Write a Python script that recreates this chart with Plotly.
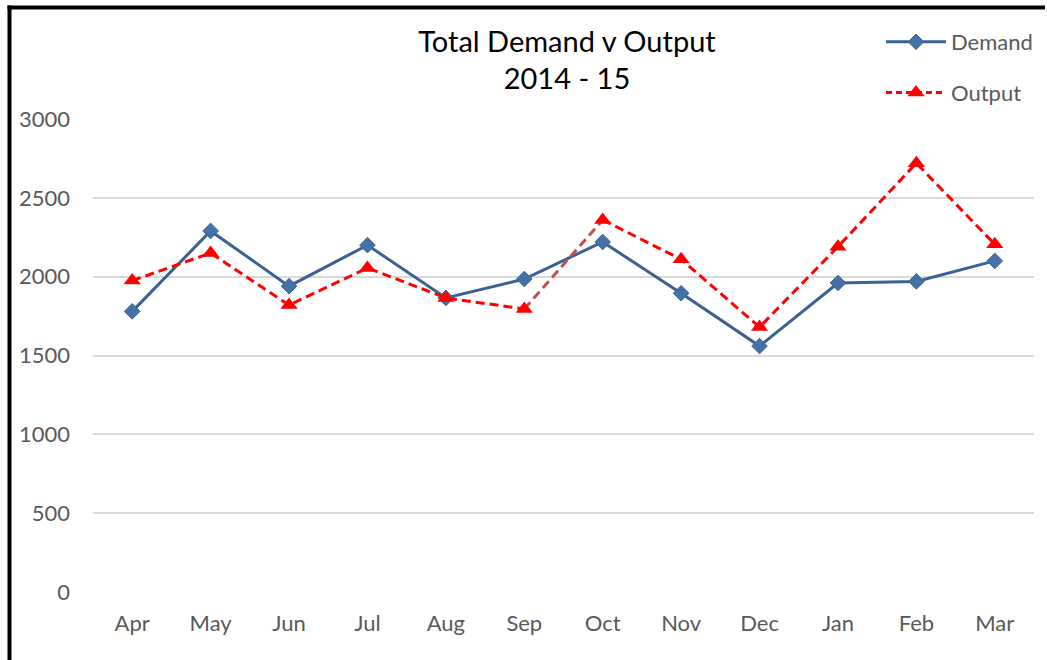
import plotly.graph_objects as go

months = ["Apr", "May", "Jun", "Jul", "Aug", "Sep", "Oct", "Nov", "Dec", "Jan", "Feb", "Mar"]
demand = [1780, 2290, 1940, 2200, 1865, 1985, 2220, 1895, 1560, 1960, 1970, 2100]
output = [1975, 2150, 1820, 2055, 1865, 1795, 2360, 2110, 1680, 2190, 2720, 2205]
y_ticks = [0, 500, 1000, 1500, 2000, 2500, 3000]

W, H = 1047, 660
# plot area in screen pixels
PL, PR, PT, PB = 93, 1034, 119, 592
ML, MT, MR, MB = PL, PT, W - PR, H - PB
PW, PH = PR - PL, PB - PT

def px(x):  # screen x -> paper
    return (x - PL) / PW

def py(y):  # screen y -> paper
    return (PB - y) / PH

def cy(y):  # screen y -> container
    return 1 - y / H

FONT = "Lato, 'Open Sans', sans-serif"
DEM_LINE = "#3A6194"
DEM_MARK = "#4272A8"
OUT_RED = "#FF0000"
SEG = "#C0504D"
DASH = "9px,5px"

fig = go.Figure()

fig.add_trace(go.Scatter(
    x=months, y=demand, name="Demand", mode="lines+markers",
    line=dict(color=DEM_LINE, width=3),
    marker=dict(symbol="diamond", size=12, color=DEM_MARK, line=dict(color=DEM_LINE, width=1)),
))

# Output series: red dashed except the Sep-Oct segment (brownish red)
fig.add_trace(go.Scatter(
    x=months[:6], y=output[:6], name="Output", mode="lines", legendgroup="out",
    line=dict(color=OUT_RED, width=3, dash=DASH), showlegend=False,
))
fig.add_trace(go.Scatter(
    x=months[5:7], y=output[5:7], name="Output", mode="lines", legendgroup="out",
    line=dict(color=SEG, width=3, dash=DASH), showlegend=False,
))
fig.add_trace(go.Scatter(
    x=months[6:], y=output[6:], name="Output", mode="lines", legendgroup="out",
    line=dict(color=OUT_RED, width=3, dash=DASH), showlegend=False,
))
fig.add_trace(go.Scatter(
    x=months, y=output, name="Output", mode="markers", legendgroup="out",
    marker=dict(symbol="triangle-up", size=15, color=OUT_RED),
    showlegend=False,
))
# legend-only entry for Output
fig.add_trace(go.Scatter(
    x=[None], y=[None], name="Output", mode="lines+markers", legendgroup="out",
    line=dict(color=OUT_RED, width=3, dash="6px,4px"),
    marker=dict(symbol="triangle-up", size=15, color=OUT_RED),
))

fig.update_layout(
    width=W, height=H,
    margin=dict(l=ML, r=MR, t=MT, b=MB, autoexpand=False),
    paper_bgcolor="white", plot_bgcolor="white",
    font=dict(family=FONT, color="#595959", size=22),
    title=dict(
        text="Total Demand v Output<br>2014 - 15",
        x=px(567), xref="paper", xanchor="center",
        y=cy(51.5), yanchor="middle", yref="container",
        font=dict(family=FONT, size=29, color="#000000"),
    ),
    legend=dict(
        x=px(881), xref="paper", xanchor="left",
        y=cy(21), yref="container", yanchor="top",
        bgcolor="rgba(0,0,0,0)",
        font=dict(family=FONT, size=22, color="#595959"),
        tracegroupgap=19, itemwidth=60,
    ),
    xaxis=dict(
        type="category", categoryorder="array", categoryarray=months,
        range=[-0.5, 11.5], showgrid=False, showline=False, zeroline=False,
        ticks="", tickfont=dict(size=22, color="#595959"), ticklabelstandoff=16,
    ),
    yaxis=dict(
        range=[0, 3000], tickvals=y_ticks, showgrid=True, gridcolor="#D9D9D9",
        gridwidth=2, zeroline=False, showline=False, ticks="",
        tickfont=dict(size=22, color="#595959"), ticklabelstandoff=22,
    ),
)

# chart-area border (left and top edges visible)
fig.add_shape(type="line", xref="paper", yref="paper",
              x0=px(9.5), x1=px(9.5), y0=py(5.5), y1=py(670),
              line=dict(color="black", width=4))
fig.add_shape(type="line", xref="paper", yref="paper",
              x0=px(7.5), x1=px(1045), y0=py(7.5), y1=py(7.5),
              line=dict(color="black", width=4))

fig.write_html(
    "out.html",
    config={"displayModeBar": False},
    post_script="document.body.style.margin='0';document.body.style.overflow='hidden';",
)
